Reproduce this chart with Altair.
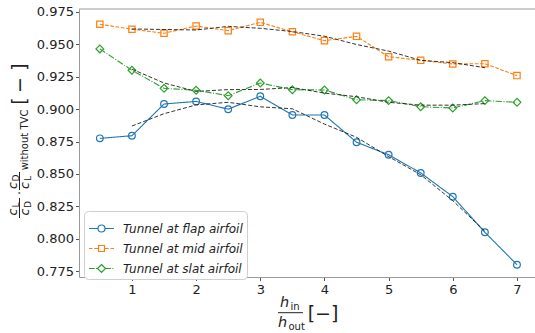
import altair as alt
import pandas as pd

# ---------------- data ----------------
x_vals = [0.5, 1.0, 1.5, 2.0, 2.5, 3.0, 3.5, 4.0, 4.5, 5.0, 5.5, 6.0, 6.5, 7.0]
flap = [0.8775, 0.8795, 0.9040, 0.9060, 0.9000, 0.9100, 0.8955, 0.8955, 0.8745, 0.8648, 0.8508, 0.8325, 0.8050, 0.7800]
mid = [0.9655, 0.9617, 0.9586, 0.9642, 0.9606, 0.9670, 0.9597, 0.9529, 0.9562, 0.9405, 0.9377, 0.9349, 0.9351, 0.9259]
slat = [0.9465, 0.9300, 0.9161, 0.9146, 0.9104, 0.9202, 0.9150, 0.9148, 0.9073, 0.9066, 0.9019, 0.9009, 0.9066, 0.9053]

fit_x = [1.0, 1.5, 2.0, 2.5, 3.0, 3.5, 4.0, 4.5, 5.0, 5.5, 6.0, 6.5]
flap_fit = [0.8870, 0.8965, 0.9033, 0.9053, 0.9018, 0.9003, 0.8885, 0.8783, 0.8634, 0.8494, 0.8294, 0.8058]
mid_fit = [0.9619, 0.9615, 0.9611, 0.9639, 0.9624, 0.9599, 0.9563, 0.9499, 0.9448, 0.9377, 0.9359, 0.9320]
slat_fit = [0.9309, 0.9202, 0.9137, 0.9151, 0.9152, 0.9167, 0.9124, 0.9096, 0.9053, 0.9031, 0.9031, 0.9043]

series_names = ["Tunnel at flap airfoil", "Tunnel at mid airfoil", "Tunnel at slat airfoil"]
colors = ["#1f77b4", "#ff7f0e", "#2ca02c"]
x_ticks = [1, 2, 3, 4, 5, 6, 7]
y_ticks = [0.775, 0.800, 0.825, 0.850, 0.875, 0.900, 0.925, 0.950, 0.975]

# ---------------- tables ----------------
series_vals = [flap, mid, slat]
fit_vals = [flap_fit, mid_fit, slat_fit]
df = pd.DataFrame(
    [{"x": x, "y": y, "series": s} for s, ys in zip(series_names, series_vals) for x, y in zip(x_vals, ys)]
)
fit_df = pd.DataFrame(
    [{"x": x, "y": y, "series": s} for s, ys in zip(series_names, fit_vals) for x, y in zip(fit_x, ys)]
)

# ---------------- layout ----------------
PL, PT = 79, 9
W, H = 456, 268
FONT = "DejaVu Sans"
INK = "#222222"
SPINE = "#9a9a9a"

xs = alt.Scale(domain=[0.175, 7.281], nice=False, zero=False)
ys = alt.Scale(domain=[0.7705, 0.9773], nice=False, zero=False)

x_axis = alt.Axis(values=x_ticks, format="d", title=None, grid=False, labelFont=FONT,
                  labelFontSize=13, labelColor=INK, domainColor=SPINE, tickColor="#555555",
                  tickSize=3.5, labelPadding=3)
y_axis = alt.Axis(values=y_ticks, format=".3f", title=None, grid=False, labelFont=FONT,
                  labelFontSize=13, labelColor=INK, domainColor=SPINE, tickColor="#555555",
                  tickSize=3.5, labelPadding=2)

X = alt.X("x:Q", scale=xs, axis=x_axis)
Y = alt.Y("y:Q", scale=ys, axis=y_axis)

dashes = [[1, 0], [3.7, 1.6], [6.4, 1.6, 1, 1.6]]
shapes = ["circle", "square", "diamond"]
sizes = [45, 40, 60]

layers = []
for name, col, dash, shp, sz in zip(series_names, colors, dashes, shapes, sizes):
    base = alt.Chart(df).transform_filter(alt.datum.series == name)
    layers.append(base.mark_line(color=col, strokeWidth=1.1, strokeDash=dash).encode(x=X, y=Y))
    layers.append(base.mark_point(color=col, shape=shp, size=sz, filled=False, strokeWidth=1.2,
                                  opacity=1).encode(x=X, y=Y))

fits = alt.Chart(fit_df).mark_line(color="#111111", strokeWidth=1, strokeDash=[4, 2], opacity=0.85).encode(
    x=X, y=Y, detail="series:N")
layers.append(fits)

# legend (symbols: line + marker drawn as custom paths)
legend_paths = [
    "M-1,0H-0.28M0.28,0H1M0.28,0A0.28,0.28,0,1,1,-0.28,0A0.28,0.28,0,1,1,0.28,0",
    "M-1,0H-0.72M-0.58,0H-0.24M0.24,0H0.58M0.72,0H1M-0.24,-0.24H0.24V0.24H-0.24Z",
    "M-1,0H-0.55M-0.45,0H-0.37M0.32,0H0.77M0.87,0H0.95M0,-0.32L0.32,0L0,0.32L-0.32,0Z",
]
leg = alt.Legend(title=None, orient="none", legendX=5, legendY=202, fillColor="white",
                 strokeColor="#cfcfcf", cornerRadius=4, padding=4, symbolSize=625,
                 symbolStrokeWidth=1.2, symbolOpacity=1, labelFont=FONT, labelFontStyle="italic",
                 labelFontSize=12, labelColor=INK, labelOffset=8, rowPadding=-5)
legend_layer = alt.Chart(df).transform_filter("false").mark_point(filled=False, strokeWidth=1.2).encode(
    x=X, y=Y,
    color=alt.Color("series:N", scale=alt.Scale(domain=series_names, range=colors), legend=leg),
    shape=alt.Shape("series:N", scale=alt.Scale(domain=series_names, range=legend_paths), legend=leg),
)
layers.append(legend_layer)

# top spine
one = pd.DataFrame({"k": [0]})
layers.append(alt.Chart(one).mark_rule(color=SPINE, strokeWidth=1).encode(
    x=alt.value(0), x2=alt.value(W), y=alt.value(0)))


def txt(s, px, py, size, angle=0, style="normal", align="center", baseline="middle"):
    props = dict(text=s, fontSize=size, font=FONT, fontStyle=style, align=align,
                 baseline=baseline, color=INK)
    if angle:
        props["angle"] = angle
    return alt.Chart(one).mark_text(**props).encode(x=alt.value(px - PL), y=alt.value(py - PT))


def bar(px1, px2, py1, py2):
    return alt.Chart(one).mark_rule(color=INK, strokeWidth=1).encode(
        x=alt.value(px1 - PL), x2=alt.value(px2 - PL), y=alt.value(py1 - PT), y2=alt.value(py2 - PT))


# x-axis title: h_in / h_out [−]
layers += [
    txt("h", 280, 307, 14.5, style="italic", align="left", baseline="alphabetic"),
    txt("in", 290.5, 309.5, 10, align="left", baseline="alphabetic"),
    bar(278, 303, 312.7, 312.7),
    txt("h", 278, 327, 14.5, style="italic", align="left", baseline="alphabetic"),
    txt("out", 288.5, 329.5, 10, align="left", baseline="alphabetic"),
    txt("[−]", 323, 319.5, 19, baseline="alphabetic"),
]

# y-axis title: cL/cD · cD/cL without TVC [−]
layers += [
    txt("c", 13, 212, 12.5, angle=270, style="italic"),
    txt("L", 15.5, 205, 9, angle=270),
    bar(19.5, 19.5, 198, 218),
    txt("c", 25, 212, 12.5, angle=270, style="italic"),
    txt("D", 27.5, 204.5, 9, angle=270),
    txt("·", 20, 193, 13, angle=270),
    txt("c", 13, 185.5, 12.5, angle=270, style="italic"),
    txt("D", 15.5, 178, 9, angle=270),
    bar(19.5, 19.5, 172, 190),
    txt("c", 25, 185.5, 12.5, angle=270, style="italic"),
    txt("L", 27.5, 178.5, 9, angle=270),
    txt("without TVC", 24.5, 140, 10, angle=270),
    txt("[", 20, 101, 19, angle=270),
    txt("−", 20, 85, 19, angle=270),
    txt("]", 20, 67, 19, angle=270),
]

chart = alt.layer(*layers).properties(
    width=W, height=H,
    padding={"left": PL, "top": PT, "right": 0, "bottom": 333 - PT - H},
    autosize=alt.AutoSizeParams(type="none"),
    background="white",
).configure_view(stroke=None)

chart.save("out.html", embed_options={"renderer": "svg", "actions": False})
